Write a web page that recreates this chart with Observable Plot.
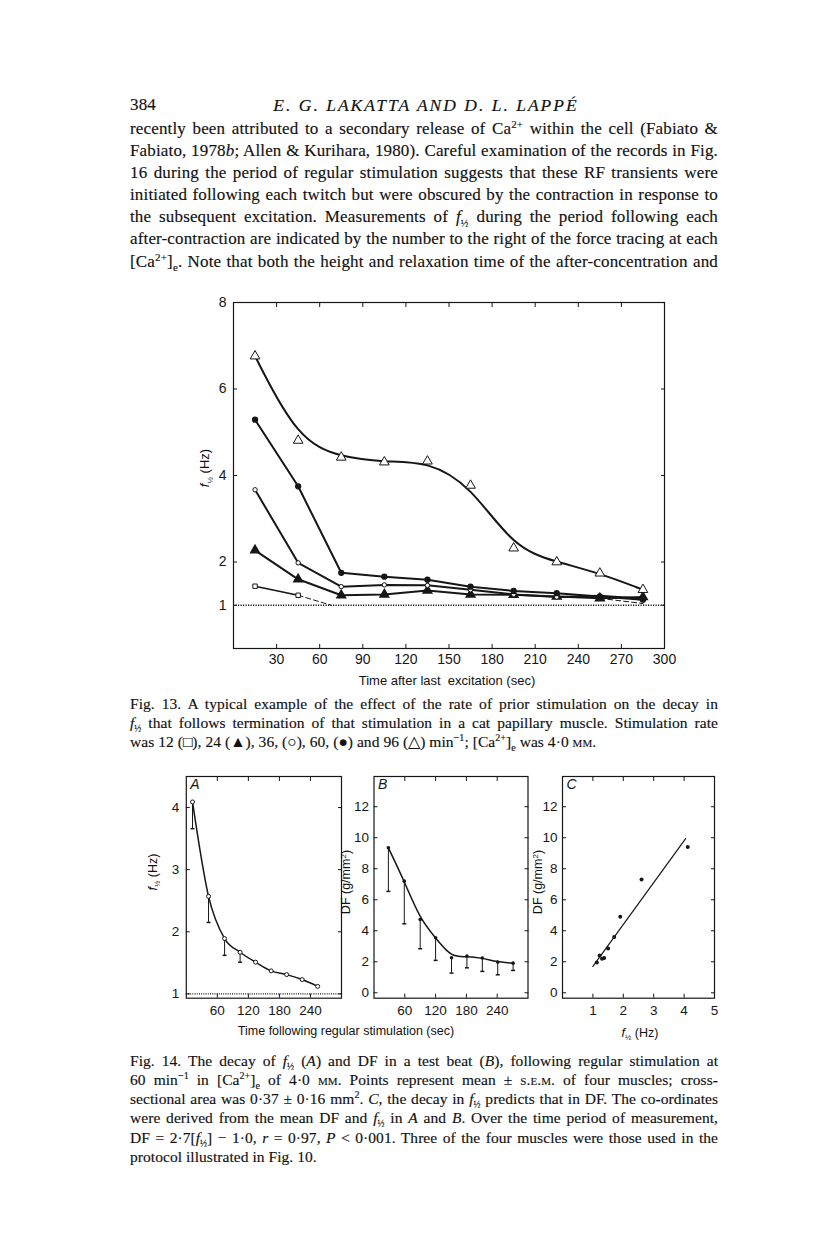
<!DOCTYPE html>
<html><head><meta charset="utf-8">
<script src="https://cdn.jsdelivr.net/npm/d3@7"></script>
<script src="https://cdn.jsdelivr.net/npm/@observablehq/plot@0.6"></script>
<style>
body{margin:0;background:#fff;width:816px;height:1243px;position:relative;overflow:hidden;font-family:"Liberation Serif","Times New Roman",serif;color:#111;}
.ln{position:absolute;left:130px;white-space:nowrap;font-size:17px;letter-spacing:0.15px;line-height:22px;height:22px;-webkit-text-stroke:0.15px #111;}
.cap{font-size:15.5px;letter-spacing:0.05px;line-height:19px;height:19px;}
.fig{position:absolute;}
.lab{position:absolute;font-family:"Liberation Sans",Arial,sans-serif;font-size:12.5px;white-space:nowrap;line-height:14px;color:#111;}
.rot{transform:translate(-50%,-50%) rotate(-90deg);}
.ctr{transform:translate(-50%,-50%);}
sub.h{font-size:60%;vertical-align:-0.45em;line-height:0;}
sup{font-size:65%;line-height:0;vertical-align:0.55em;}
sub{font-size:65%;line-height:0;}
.sc{font-variant:small-caps;}
</style></head><body>
<div class="ln" style="top:94px;width:588px;"><span>384</span><span style="position:absolute;left:296px;transform:translateX(-50%);font-style:italic;letter-spacing:2px;font-size:17.5px;">E. G. LAKATTA AND D. L. LAPPÉ</span></div>
<div class="ln j" style="top:118px;">recently been attributed to a secondary release of Ca<sup>2+</sup> within the cell (Fabiato &amp;</div>
<div class="ln j" style="top:140px;">Fabiato, 1978<i>b</i>; Allen &amp; Kurihara, 1980). Careful examination of the records in Fig.</div>
<div class="ln j" style="top:162px;">16 during the period of regular stimulation suggests that these RF transients were</div>
<div class="ln j" style="top:184px;">initiated following each twitch but were obscured by the contraction in response to</div>
<div class="ln j" style="top:206px;">the subsequent excitation. Measurements of <i>f</i><sub class="h">½</sub> during the period following each</div>
<div class="ln j" style="top:228px;">after-contraction are indicated by the number to the right of the force tracing at each</div>
<div class="ln j" style="top:251px;">[Ca<sup>2+</sup>]<sub>e</sub>. Note that both the height and relaxation time of the after-concentration and</div>

<div id="fig13" class="fig" style="left:185px;top:290px;"></div>
<div class="lab rot" style="left:205px;top:468px;font-size:13px;"><i>f</i><sub class="h">½</sub> (Hz)</div>
<div class="lab ctr" style="left:447px;top:681px;font-size:13px;">Time after last&nbsp; excitation (sec)</div>

<div class="ln j cap" style="top:694px;">Fig. 13. A typical example of the effect of the rate of prior stimulation on the decay in</div>
<div class="ln j cap" style="top:713px;"><i>f</i><sub class="h">½</sub> that follows termination of that stimulation in a cat papillary muscle. Stimulation rate</div>
<div class="ln cap" style="top:732px;">was 12 (□), 24 (▲), 36, (○), 60, (●) and 96 (△) min<sup>−1</sup>; [Ca<sup>2+</sup>]<sub>e</sub> was 4·0 <span class="sc">mm</span>.</div>

<div id="figA" class="fig" style="left:155px;top:766px;"></div>
<div id="figB" class="fig" style="left:330px;top:766px;"></div>
<div id="figC" class="fig" style="left:520px;top:766px;"></div>
<div class="lab rot" style="left:153px;top:872px;"><i>f</i><sub class="h">½</sub> (Hz)</div>
<div class="lab rot" style="left:346px;top:882px;">DF (g/mm<sup>2</sup>)</div>
<div class="lab rot" style="left:538px;top:882px;">DF (g/mm<sup>2</sup>)</div>
<div class="lab ctr" style="left:346px;top:1031px;">Time following regular stimulation (sec)</div>
<div class="lab ctr" style="left:640px;top:1033px;"><i>f</i><sub class="h">½</sub> (Hz)</div>

<div class="ln j cap" style="top:1051px;">Fig. 14. The decay of <i>f</i><sub class="h">½</sub> (<i>A</i>) and DF in a test beat (<i>B</i>), following regular stimulation at</div>
<div class="ln j cap" style="top:1070px;">60 min<sup>−1</sup> in [Ca<sup>2+</sup>]<sub>e</sub> of 4·0 <span class="sc">mm</span>. Points represent mean ± <span class="sc">s.e.m.</span> of four muscles; cross-</div>
<div class="ln j cap" style="top:1089px;">sectional area was 0·37 ± 0·16 mm<sup>2</sup>. <i>C</i>, the decay in <i>f</i><sub class="h">½</sub> predicts that in DF. The co-ordinates</div>
<div class="ln j cap" style="top:1108px;">were derived from the mean DF and <i>f</i><sub class="h">½</sub> in <i>A</i> and <i>B</i>. Over the time period of measurement,</div>
<div class="ln j cap" style="top:1128px;">DF = 2·7[<i>f</i><sub class="h">½</sub>] − 1·0, <i>r</i> = 0·97, <i>P</i> &lt; 0·001. Three of the four muscles were those used in the</div>
<div class="ln cap" style="top:1147px;">protocol illustrated in Fig. 10.</div>

<script>
// ---------- Fig. 13 data ----------
const fig13Time = [15, 45, 75, 105, 135, 165, 195, 225, 255, 285];
const rate96 = [6.76, 4.81, 4.42, 4.31, 4.33, 3.77, 2.32, 2.00, 1.74, 1.36];
const rate60 = [5.29, 3.75, 1.75, 1.66, 1.59, 1.43, 1.33, 1.28, 1.20, 1.13];
const rate36 = [3.67, 1.98, 1.43, 1.47, 1.46, 1.36, 1.25, 1.19, 1.22, 1.15];
const rate24 = [2.27, 1.60, 1.23, 1.25, 1.34, 1.25, 1.24, 1.20, 1.16, 1.19];
const rate12Time = [15, 45];
const rate12 = [1.44, 1.23];
const rate12DashTime = [45, 68];
const rate12Dash = [1.23, 1.0];
const rate12TailTime = [255, 285];
const rate12Tail = [1.16, 1.04];
const fig13XTicks = [30, 60, 90, 120, 150, 180, 210, 240, 270, 300];
const fig13YTicks = [1, 2, 4, 6, 8];
const baseline = [1];

// ---------- Fig. 14 data ----------
const aTime = [12, 43, 74, 104, 134, 164, 194, 224, 254];
const aHalf = [4.09, 2.57, 1.89, 1.67, 1.51, 1.37, 1.31, 1.23, 1.12];
const aLow  = [3.66, 2.15, 1.62, 1.51, 1.51, 1.37, 1.31, 1.23, 1.12];
const bTime = [28, 59, 90, 120, 151, 181, 211, 241, 271];
const bDF   = [9.35, 7.2, 4.73, 3.55, 2.26, 2.37, 2.24, 1.98, 1.91];
const bLow  = [6.54, 4.45, 2.84, 2.09, 1.27, 1.61, 1.38, 1.16, 1.44];
const cHalf = [4.12, 2.6, 1.9, 1.7, 1.5, 1.37, 1.3, 1.22, 1.13];
const cDF   = [9.4, 7.3, 4.9, 3.6, 2.85, 2.25, 2.2, 2.4, 1.95];
const fitHalf = [1.0, 4.05];
const fitDF = [1.7, 9.94];
const timeTicks14 = [60, 120, 180, 240];
const aYTicks = [1, 2, 3, 4];
const dfTicks = [0, 2, 4, 6, 8, 10, 12];
const cXTicks = [1, 2, 3, 4, 5];
const panelLetters = ["A", "B", "C"];

const zip = (xs, ys, extra) => xs.map((x, i) => Object.assign({x, y: ys[i]}, extra ? {lo: extra[i]} : {}));
const ink = "#161616";
const sans = "'Liberation Sans', Arial, sans-serif";
const intFmt = d3.format("d");
const capSymbol = {draw(ctx, size) { const w = Math.sqrt(size / Math.PI); ctx.moveTo(-w, 0); ctx.lineTo(w, 0); }};

function frameAxes(xt, yt, opts = {}) {
  return [
    Plot.frame({stroke: ink, strokeWidth: 1.2}),
    Plot.axisX(xt, {anchor: "bottom", tickSize: -4, tickPadding: opts.xPad ?? 11, tickFormat: intFmt, label: null, stroke: ink, fill: ink}),
    Plot.axisX(xt, {anchor: "top", tickSize: -4, tickFormat: () => "", label: null, stroke: ink}),
    Plot.axisY(yt, {anchor: "left", tickSize: -4, tickPadding: opts.yPad ?? 11, tickFormat: intFmt, label: null, stroke: ink, fill: ink}),
    Plot.axisY(yt, {anchor: "right", tickSize: -4, tickFormat: () => "", label: null, stroke: ink})
  ];
}

// ---------- Fig. 13 ----------
const s96 = zip(fig13Time, rate96), s60 = zip(fig13Time, rate60), s36 = zip(fig13Time, rate36), s24 = zip(fig13Time, rate24);
const s12 = zip(rate12Time, rate12), s12d = zip(rate12DashTime, rate12Dash), s12t = zip(rate12TailTime, rate12Tail);
const lw = 2;
const f13 = Plot.plot({
  width: 490, height: 380, marginLeft: 48, marginRight: 11, marginTop: 12, marginBottom: 22,
  style: {fontFamily: sans, fontSize: "14px", color: ink, background: "transparent", overflow: "visible"},
  x: {domain: [0, 300]}, y: {domain: [0, 8]},
  marks: [
    ...frameAxes(fig13XTicks, fig13YTicks, {xPad: 10, yPad: 11}),
    Plot.ruleY(baseline, {stroke: ink, strokeWidth: 1.3, strokeDasharray: "1.2,1.3"}),
    Plot.line(s12d, {x: "x", y: "y", stroke: ink, strokeWidth: 1, strokeDasharray: "5,3"}),
    Plot.line(s12t, {x: "x", y: "y", stroke: ink, strokeWidth: 1, strokeDasharray: "5,3"}),
    Plot.line(s12, {x: "x", y: "y", stroke: ink, strokeWidth: 1.6}),
    Plot.line(s24, {x: "x", y: "y", stroke: ink, strokeWidth: lw}),
    Plot.line(s36, {x: "x", y: "y", stroke: ink, strokeWidth: lw}),
    Plot.line(s60, {x: "x", y: "y", stroke: ink, strokeWidth: lw}),
    Plot.line(s96, {x: "x", y: "y", stroke: ink, strokeWidth: lw, curve: "basis"}),
    Plot.dot(s12, {x: "x", y: "y", symbol: "square", r: 2.5, fill: "white", stroke: ink, strokeWidth: 1}),
    Plot.dot(s24, {x: "x", y: "y", symbol: "triangle", r: 3.2, fill: ink, stroke: ink}),
    Plot.dot(s36, {x: "x", y: "y", symbol: "circle", r: 2.2, fill: "white", stroke: ink, strokeWidth: 1}),
    Plot.dot(s60, {x: "x", y: "y", symbol: "circle", r: 2.4, fill: ink, stroke: ink}),
    Plot.dot(s96, {x: "x", y: "y", symbol: "triangle", r: 3.6, fill: "white", stroke: ink, strokeWidth: 1})
  ]
});
document.getElementById("fig13").append(f13);

// ---------- Fig. 14 ----------
const common14 = {height: 260, marginTop: 10, marginBottom: 28.3,
  style: {fontFamily: sans, fontSize: "13.5px", color: ink, background: "transparent", overflow: "visible"}};
const letter = (k) => Plot.text([panelLetters[k]], {text: d => d, frameAnchor: "top-left", dx: 4, dy: 3, lineAnchor: "top", textAnchor: "start", fontStyle: "italic", fontSize: 14, fill: ink});

const aData = zip(aTime, aHalf, aLow);
const figA = Plot.plot({
  ...common14, width: 192, marginLeft: 30.8, marginRight: 6,
  x: {domain: [0, 300]}, y: {domain: [0.93, 4.5]},
  marks: [
    ...frameAxes(timeTicks14, aYTicks),
    Plot.ruleY(baseline, {stroke: ink, strokeWidth: 1.2, strokeDasharray: "1,1.2"}),
    Plot.ruleX(aData, {x: "x", y1: "y", y2: "lo", stroke: ink, strokeWidth: 1}),
    Plot.dot(aData.filter(d => d.lo < d.y), {x: "x", y: "lo", symbol: capSymbol, r: 2, stroke: ink}),
    Plot.line(aData, {x: "x", y: "y", stroke: ink, strokeWidth: 1.5, curve: "monotone-x"}),
    Plot.dot(aData, {x: "x", y: "y", r: 2, fill: "white", stroke: ink, strokeWidth: 1}),
    letter(0)
  ]
});
document.getElementById("figA").append(figA);

const bData = zip(bTime, bDF, bLow);
const figB = Plot.plot({
  ...common14, width: 203.5, marginLeft: 43.5, marginRight: 6,
  x: {domain: [0, 300]}, y: {domain: [-0.35, 13.95]},
  marks: [
    ...frameAxes(timeTicks14, dfTicks, {yPad: 9}),
    Plot.ruleX(bData, {x: "x", y1: "y", y2: "lo", stroke: ink, strokeWidth: 1}),
    Plot.dot(bData, {x: "x", y: "lo", symbol: capSymbol, r: 2, stroke: ink}),
    Plot.line(bData, {x: "x", y: "y", stroke: ink, strokeWidth: 1.5, curve: "basis"}),
    Plot.dot(bData, {x: "x", y: "y", r: 1.8, fill: ink}),
    letter(1)
  ]
});
document.getElementById("figB").append(figB);

const cData = zip(cHalf, cDF);
const fitData = zip(fitHalf, fitDF);
const figC = Plot.plot({
  ...common14, width: 200, marginLeft: 42, marginRight: 6,
  x: {domain: [0, 5]}, y: {domain: [-0.35, 13.95]},
  marks: [
    ...frameAxes(cXTicks, dfTicks, {yPad: 9}),
    Plot.line(fitData, {x: "x", y: "y", stroke: ink, strokeWidth: 1.2}),
    Plot.dot(cData, {x: "x", y: "y", r: 2, fill: ink}),
    letter(2)
  ]
});
document.getElementById("figC").append(figC);

// ---------- justify text lines to the column width ----------
const colWidth = 588;
document.querySelectorAll(".j").forEach(el => {
  const span = document.createElement("span");
  while (el.firstChild) span.appendChild(el.firstChild);
  el.appendChild(span);
  const w = span.getBoundingClientRect().width;
  const spaces = (span.textContent.match(/ /g) || []).length;
  if (spaces) el.style.wordSpacing = ((colWidth - w) / spaces) + "px";
});
</script>
</body></html>
